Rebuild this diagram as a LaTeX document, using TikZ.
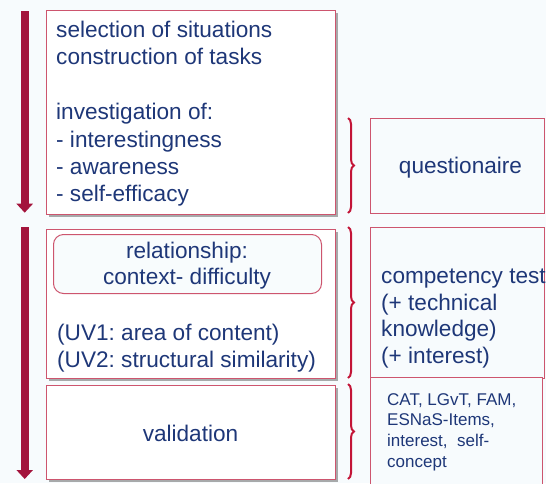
\documentclass[tikz,border=0pt]{standalone}
\usepackage{fontspec}
\setmainfont{Liberation Sans}
\usetikzlibrary{arrows.meta,shadows,decorations.pathreplacing}
\definecolor{bg}{RGB}{247,251,253}
\definecolor{txt}{RGB}{30,55,120}
\definecolor{bord}{RGB}{205,85,110}
\definecolor{arr}{RGB}{163,20,60}
\definecolor{brc}{RGB}{195,20,55}
\definecolor{innerfill}{RGB}{248,252,253}
\frenchspacing
\begin{document}
\begin{tikzpicture}[x=1pt,y=-1pt,
  lbox/.style={draw=bord, line width=1pt, fill=white, rectangle, inner sep=0pt, anchor=north west,
    drop shadow={shadow xshift=2.5pt, shadow yshift=-2.5pt, fill=black!65, opacity=0.5}},
  rbox/.style={draw=bord, line width=1pt, fill=bg, rectangle, inner sep=0pt, anchor=north west},
  ibox/.style={draw=bord, line width=1pt, fill=innerfill, rectangle, rounded corners=10pt, inner sep=0pt, anchor=north west},
  bigtxt/.style={text=txt, inner sep=0pt, font=\fontsize{22.6}{27.45}\selectfont},
  smalltxt/.style={text=txt, inner sep=0pt, font=\fontsize{17}{20.7}\selectfont},
  flowarrow/.style={arr, line width=8pt, -{Triangle[width=16pt,length=9pt]}},
  bracket/.style={brc, line width=2pt, decorate, decoration={brace, amplitude=6pt, aspect=0.5}}
]
\useasboundingbox (0,0) rectangle (546,483);
\fill[bg] (0,0) rectangle (546,483);

% left boxes
\node[lbox, minimum width=289.5pt, minimum height=203.5pt] (b1) at (45.5,10) {};
\node[lbox, minimum width=289.5pt, minimum height=149pt] (b2) at (45.5,229) {};
\node[lbox, minimum width=289.5pt, minimum height=94pt] (b3) at (45.5,385) {};
\node[ibox, minimum width=268pt, minimum height=59pt] (ib) at (53,234) {};

% right boxes
\node[rbox, minimum width=174pt, minimum height=95pt] (r1) at (370,118) {};
\node[rbox, minimum width=174pt, minimum height=151pt] (r2) at (370,227) {};
\node[rbox, minimum width=172pt, minimum height=118pt] (r3) at (370,377) {};

% texts
\node[bigtxt, align=left, anchor=north west] (t1) at (56,19.5)
 {\rule{0pt}{17.5pt}selection of situations\\construction of tasks\\{}\\investigation of:\\- interestingness\\- awareness\\- self-efficacy};
\node[bigtxt, align=center, anchor=north, font=\fontsize{22.6}{26.2}\selectfont] (t2) at (187,240.8)
 {\rule{0pt}{17.5pt}relationship:\\context- difficulty};
\node[bigtxt, align=left, anchor=north west, font=\fontsize{22.6}{26.8}\selectfont] (t3) at (57,322.5)
 {\rule{0pt}{17.5pt}(UV1: area of content)\\(UV2: structural similarity)};
\node[bigtxt, anchor=base] (t4) at (190.5,441) {validation};
\node[bigtxt, anchor=base] (t5) at (460.5,173) {questionaire};
\node[bigtxt, align=left, anchor=north west, font=\fontsize{22.6}{26.8}\selectfont] (t6) at (381,265.5)
 {\rule{0pt}{17.5pt}competency test\\(+ technical\\knowledge)\\(+ interest)};
\node[smalltxt, align=left, anchor=north west] (t7) at (387,391)
 {\rule{0pt}{14pt}CAT, LGvT, FAM,\\ESNaS-Items,\\interest,~ self-\\concept};

% flow arrows
\coordinate (a1s) at (24.7,11);
\coordinate (a1e) at (24.7,212.7);
\coordinate (a2s) at (24.7,227);
\coordinate (a2e) at (24.7,479);
\draw[flowarrow] (a1s) -- (a1e);
\draw[flowarrow] (a2s) -- (a2e);

% braces
\coordinate (c1s) at (348,118);
\coordinate (c1e) at (348,213);
\coordinate (c2s) at (348,227);
\coordinate (c2e) at (348,378);
\coordinate (c3s) at (348,384);
\coordinate (c3e) at (348,479);
\draw[bracket] (c1s) -- (c1e);
\draw[bracket] (c2s) -- (c2e);
\draw[bracket] (c3s) -- (c3e);
\end{tikzpicture}
\end{document}
